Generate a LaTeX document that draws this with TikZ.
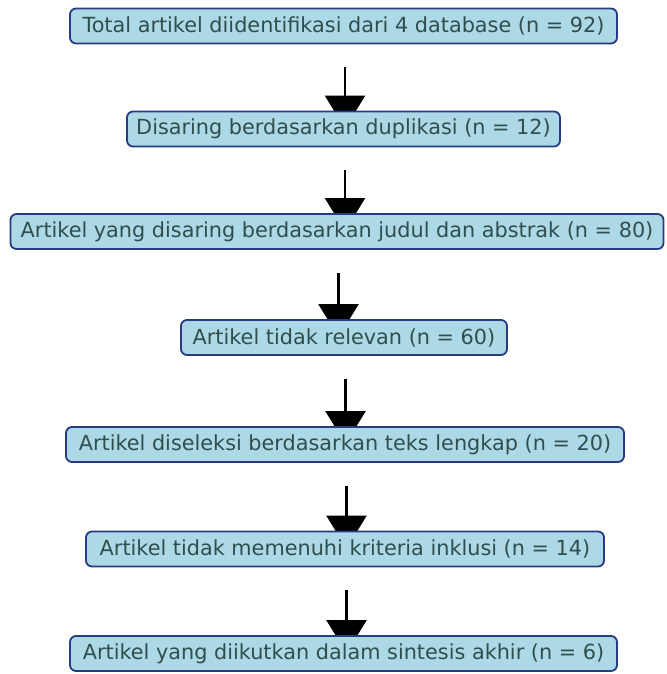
\documentclass[tikz,border=0pt]{standalone}
\usepackage{fontspec}
\setmainfont{DejaVu Sans}
\usetikzlibrary{arrows.meta}
\definecolor{boxfill}{HTML}{ADD8E6}
\definecolor{boxedge}{HTML}{283A80}
\definecolor{txt}{HTML}{2F4F4F}
\pgfdeclarelayer{back}
\pgfsetlayers{back,main}
\begin{document}
\begin{tikzpicture}[x=1pt,y=-1pt,
  flowbox/.style={draw=boxedge,fill=boxfill,line width=1.8pt,rounded corners=6pt,
    minimum height=35pt,inner sep=0pt,text=txt,font=\fontsize{20.8}{24}\selectfont},
  arr/.style={line width=2.3pt,-{Triangle[width=40pt,length=33pt]},shorten <=23pt}]
\useasboundingbox (0,0) rectangle (666,674);
\node[flowbox,minimum width=547pt] (b1) at (343.5,26) {Total artikel diidentifikasi dari 4 database (n = 92)};
\node[flowbox,minimum width=433pt] (b2) at (343.5,129) {Disaring berdasarkan duplikasi (n = 12)};
\node[flowbox,minimum width=653pt] (b3) at (337,231.5) {Artikel yang disaring berdasarkan judul dan abstrak (n = 80)};
\node[flowbox,minimum width=326pt] (b4) at (344,337.5) {Artikel tidak relevan (n = 60)};
\node[flowbox,minimum width=558pt] (b5) at (345,444.5) {Artikel diseleksi berdasarkan teks lengkap (n = 20)};
\node[flowbox,minimum width=518pt] (b6) at (345,549) {Artikel tidak memenuhi kriteria inklusi (n = 14)};
\node[flowbox,minimum width=547pt] (b7) at (343.5,653.5) {Artikel yang diikutkan dalam sintesis akhir (n = 6)};
\begin{pgfonlayer}{back}
\fill[white] (0,0) rectangle (666,674);
\foreach \a/\b in {b1/b2,b2/b3,b3/b4,b4/b5,b5/b6,b6/b7}
  \draw[arr] ([xshift=1.5pt]\a.south) -- ([xshift=1.5pt,yshift=-18pt]\a.south |- \b.north);
\end{pgfonlayer}
\end{tikzpicture}
\end{document}
